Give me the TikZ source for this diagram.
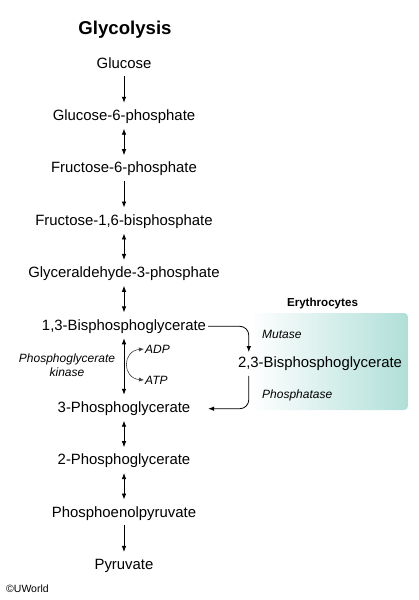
\documentclass[tikz,border=0pt]{standalone}
\usepackage{fontspec}
\setmainfont{Liberation Sans}
\usepackage{tikz}
\usetikzlibrary{positioning,arrows.meta,shapes.geometric}
\usepackage{xcolor}
\definecolor{rbcteal}{RGB}{176,223,216}

\begin{document}
\begin{tikzpicture}[x=1pt, y=-1pt,
  met/.style={inner xsep=2pt, inner ysep=4pt, text height=10.5pt, text depth=3pt,
              font=\fontsize{14.9}{16}\selectfont},
  enz/.style={inner sep=1pt, font=\fontsize{12}{14}\selectfont\itshape, anchor=west},
  step1/.style={-{Latex[length=6pt,width=4.6pt]}, thick, shorten <=1pt, shorten >=3pt},
  step2/.style={{Latex[length=6pt,width=4.6pt]}-{Latex[length=6pt,width=4.6pt]}, thick, shorten <=1pt, shorten >=3pt},
  ]
  \useasboundingbox (0,0) rectangle (418,600);
  % erythrocyte panel
  \shade[left color=white, right color=rbcteal, rounded corners=4pt] (250,313) rectangle (408,410);
  \node[font=\fontsize{11.6}{13}\selectfont\bfseries] (rbc) at (322.5,303) {Erythrocytes};

  \node[font=\fontsize{18.6}{20}\selectfont\bfseries] (title) at (125,30) {Glycolysis};
  \node[met] (glc) at (124,64.3) {Glucose};
  \node[met, below=30.5pt of glc] (g6p) {Glucose-6-phosphate};
  \node[met, below=30.5pt of g6p] (f6p) {Fructose-6-phosphate};
  \node[met, below=30.5pt of f6p] (fbp) {Fructose-1,6-bisphosphate};
  \node[met, below=30.5pt of fbp] (gap) {Glyceraldehyde-3-phosphate};
  \node[met, below=30.5pt of gap] (bpg13) {1,3-Bisphosphoglycerate};
  \node[met, below=60.5pt of bpg13] (pg3) {3-Phosphoglycerate};
  \node[met, below=30.5pt of pg3] (pg2) {2-Phosphoglycerate};
  \node[met, below=30.5pt of pg2] (pep) {Phosphoenolpyruvate};
  \node[met, below=30.5pt of pep] (pyr) {Pyruvate};
  \node[met] (bpg23) at (320,364) {2,3-Bisphosphoglycerate};

  \draw[step1] (glc) -- (g6p);
  \draw[step2] (g6p) -- (f6p);
  \draw[step1] (f6p) -- (fbp);
  \draw[step2] (fbp) -- (gap);
  \draw[step2] (gap) -- (bpg13);
  \draw[step2] (bpg13) -- (pg3);
  \draw[step2] (pg3) -- (pg2);
  \draw[step2] (pg2) -- (pep);
  \draw[step1] (pep) -- (pyr);

  % kinase step
  \node[align=center, inner sep=1pt, font=\fontsize{12}{14}\selectfont\itshape] (pgk) at (67,365) {Phosphoglycerate\\kinase};
  \node[enz] (adp) at (144,349) {ADP};
  \node[enz] (atp) at (144,380) {ATP};
  \draw[{Latex[length=5pt,width=4.2pt]}-{Latex[length=5pt,width=4.2pt]}, black!75, semithick]
    (adp.west) .. controls +(-22,2) and +(-22,-2) .. (atp.west);

  % Rapoport-Luebering shunt
  \draw[-{Latex[length=6pt,width=4.6pt]}, thick, rounded corners=9pt, shorten >=1pt]
    (bpg13.east) -| ([xshift=13pt]bpg23.north west);
  \draw[-{Latex[length=6pt,width=4.6pt]}, thick, rounded corners=9pt, shorten <=1pt]
    ([xshift=13pt]bpg23.south west) |- (pg3.east -| bpg13.east);
  \node[enz] (mut) at (261,334) {Mutase};
  \node[enz] (pase) at (261,395) {Phosphatase};

  \node[anchor=west, inner sep=0pt, font=\fontsize{10.5}{12}\selectfont] (cr) at (6,589) {©UWorld};
\end{tikzpicture}
\end{document}
